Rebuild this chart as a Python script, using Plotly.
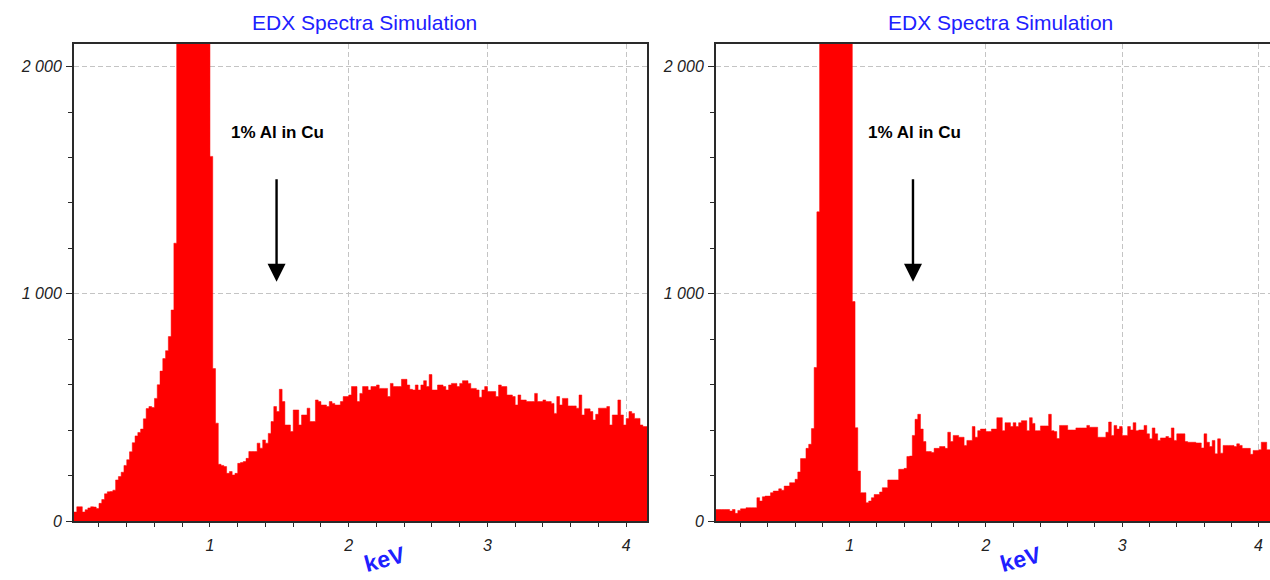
import numpy as np
import plotly.graph_objects as go

# ---------------- data ----------------
BIN_START_KEV = 0.02
BIN_WIDTH_KEV = 0.02

left_counts = [
    40, 63, 63, 40, 50, 58, 63, 62, 55, 78, 95, 120, 129, 130, 136, 181, 196, 215, 245, 270,
    305, 345, 375, 390, 405, 450, 495, 504, 500, 540, 600, 660, 715, 750, 812, 929, 1223,
    2600, 3500, 4800, 6200, 7500, 8200, 8000, 7000, 5600, 4200, 3100, 2300,
    1605, 671, 431, 250, 245, 240, 210, 218, 203, 210, 254, 258, 262, 276, 306,
    306, 306, 343, 321, 357, 343, 386, 438, 504, 482, 580, 526, 423, 423, 394, 489, 489, 423, 467, 467,
    497, 438, 438, 533, 526, 511, 511, 504, 526, 518, 511, 511, 526, 548, 548, 555, 592, 592, 526, 562,
    592, 592, 577, 592, 592, 599, 584, 584, 584, 548, 606, 592, 592, 592, 624, 624, 599, 580, 577, 599,
    577, 599, 618, 592, 645, 577, 577, 599, 599, 592, 577, 599, 606, 606, 592, 606, 618, 618, 606, 584,
    584, 577, 545, 577, 592, 570, 570, 570, 548, 599, 592, 592, 555, 555, 548, 511, 555, 533, 533, 526,
    526, 526, 562, 526, 526, 533, 526, 526, 518, 474, 548, 511, 540, 540, 507, 507, 507, 497, 555, 467,
    494, 494, 482, 445, 470, 497, 497, 497, 504, 423, 467, 467, 533, 467, 423, 452, 482, 474, 452, 452,
    423, 416, 416,
]

right_counts = [
    51, 51, 51, 51, 51, 44, 51, 34, 47, 54, 54, 59, 59, 59, 59, 103, 88, 107, 110, 110,
    125, 132, 132, 142, 136, 154, 154, 169, 169, 184, 216, 275, 275, 320, 338, 407, 676, 1361,
    2500, 3400, 4700, 6100, 7400, 8100, 7900, 6900, 5500, 4100, 3000, 2250,
    966, 411, 220, 125, 125, 81, 88, 103, 117, 117, 128, 147, 147, 181,
    181, 181, 181, 228, 228, 232, 284, 286, 377, 448, 470, 405, 350, 306, 306, 302, 320, 320, 328, 328,
    320, 391, 350, 377, 377, 369, 369, 333, 355, 355, 416, 369, 398, 405, 405, 394, 394, 405, 405, 455,
    455, 398, 433, 433, 416, 433, 416, 433, 442, 442, 398, 455, 430, 398, 398, 419, 419, 419, 470, 398,
    394, 363, 421, 421, 421, 401, 401, 401, 410, 410, 410, 410, 421, 413, 413, 413, 369, 369, 369, 391,
    436, 377, 421, 405, 416, 377, 377, 416, 401, 433, 398, 401, 401, 421, 384, 362, 410, 384, 355, 366,
    366, 372, 366, 410, 355, 384, 384, 384, 350, 347, 347, 347, 344, 344, 322, 384, 347, 328, 355, 296,
    362, 299, 333, 333, 333, 333, 328, 340, 333, 320, 320, 320, 294, 311, 311, 314, 347, 347, 314, 314,
    320, 310, 305,
]

panel_titles = ["EDX Spectra Simulation", "EDX Spectra Simulation"]
x_title = "keV"
note_text = "1% Al in Cu"
arrow_kev = [1.48, 1.465]
note_kev = [1.49, 1.476]
note_y = 1709
arrow_head_y = 1053
arrow_tail_y = 1511

x_ranges = [[0.02, 4.15], [0.02, 4.084]]
y_range = [0, 2100]

# ---------------- figure ----------------
W, H = 1270, 580
H_EFF = 572  # observed effective vertical pixel span of the rendered page
RED = "#ff0000"
BLUE = "#2020ff"
AXC = "#2a2a2a"
GRIDC = "#c4c4c4"
FONT = "Liberation Sans, Arial, sans-serif"


def py(px):
    """pixel row from top -> paper fraction"""
    return 1 - px / H_EFF


def step_xy(counts):
    edges = BIN_START_KEV + BIN_WIDTH_KEV * np.arange(len(counts) + 1)
    ys = list(counts) + [counts[-1]]
    return edges, ys


fig = go.Figure()
for k, counts in enumerate([left_counts, right_counts]):
    ex, ey = step_xy(counts)
    fig.add_trace(go.Scatter(
        x=ex, y=ey, mode="lines",
        line=dict(shape="hv", color=RED, width=0.5),
        fill="tozeroy", fillcolor=RED,
        xaxis="x" if k == 0 else "x2", yaxis="y" if k == 0 else "y2",
        hoverinfo="skip", showlegend=False,
    ))

ydom = [py(522), py(44)]
xdoms = [[74 / W, 647 / W], [716 / W, 1.0]]

def xaxis_cfg(k):
    return dict(
        domain=xdoms[k], range=x_ranges[k], anchor="y" if k == 0 else "y2",
        tick0=0, dtick=1, ticks="outside", ticklen=4, tickwidth=1, tickcolor=AXC,
        showline=True, linecolor=AXC, linewidth=2, mirror=True,
        showgrid=True, gridcolor=GRIDC, griddash="5px,3px", gridwidth=1,
        zeroline=False, ticklabelstandoff=5,
        tickfont=dict(family=FONT, size=16, color="#222", style="italic"),
        minor=dict(tick0=0, dtick=0.2, ticks="outside", ticklen=4, tickcolor=AXC, showgrid=False),
    )

def yaxis_cfg(k):
    return dict(
        domain=ydom, range=y_range, anchor="x" if k == 0 else "x2",
        tick0=0, dtick=1000, separatethousands=True,
        ticks="outside", ticklen=6, tickwidth=1, tickcolor=AXC,
        showline=True, linecolor=AXC, linewidth=2, mirror=(k == 0),
        showgrid=True, gridcolor=GRIDC, griddash="5px,3px", gridwidth=1,
        zeroline=False, ticklabelstandoff=1,
        tickfont=dict(family=FONT, size=16, color="#222", style="italic"),
        minor=dict(tick0=0, dtick=200, ticks="outside", ticklen=4, tickcolor=AXC, showgrid=False),
    )

annotations = []
title_x_px = [364, 1000.5]
kev_x_px = [385, 1021]
for k in range(2):
    xr = "x" if k == 0 else "x2"
    yr = "y" if k == 0 else "y2"
    annotations.append(dict(
        text=panel_titles[k], xref="paper", yref="paper",
        x=title_x_px[k] / W, y=py(22.5), xanchor="center", yanchor="middle",
        showarrow=False, font=dict(family=FONT, size=21, color=BLUE),
    ))
    annotations.append(dict(
        text="<b>" + x_title + "</b>", xref="paper", yref="paper",
        x=kev_x_px[k] / W, y=py(560), xanchor="center", yanchor="middle",
        textangle=-15, showarrow=False, font=dict(family=FONT, size=23, color=BLUE),
    ))
    annotations.append(dict(
        text="<b>" + note_text + "</b>", xref=xr, yref=yr,
        x=note_kev[k], y=note_y, xanchor="center", yanchor="middle",
        showarrow=False, font=dict(family=FONT, size=17, color="#000"),
    ))
    annotations.append(dict(
        text="", xref=xr, yref=yr, x=arrow_kev[k], y=arrow_head_y,
        axref=xr, ayref=yr, ax=arrow_kev[k], ay=arrow_tail_y,
        showarrow=True, arrowhead=2, arrowsize=1.5, arrowwidth=2.4, arrowcolor="#000",
    ))

fig.update_layout(
    width=W, height=H, autosize=False,
    margin=dict(l=0, r=0, t=0, b=0),
    paper_bgcolor="white", plot_bgcolor="white",
    separators=". ",
    xaxis=xaxis_cfg(0), yaxis=yaxis_cfg(0),
    xaxis2=xaxis_cfg(1), yaxis2=yaxis_cfg(1),
    annotations=annotations,
    showlegend=False,
)

fig.write_html(
    "out.html",
    config={"displayModeBar": False},
    post_script=(
        "document.body.style.margin='0';document.body.style.padding='0';"
        "document.body.style.overflow='hidden';"
    ),
)
